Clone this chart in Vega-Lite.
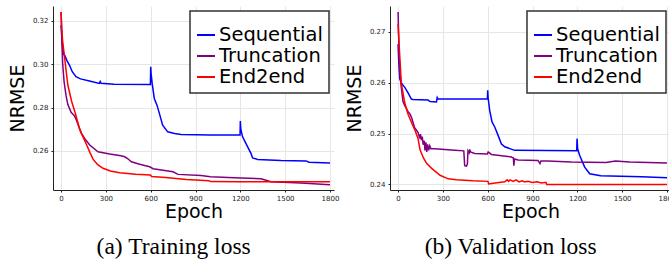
{
  "$schema": "https://vega.github.io/schema/vega-lite/v6.json",
  "padding": {"left": 8, "top": 6, "right": 0, "bottom": 0},
  "spacing": 6,
  "datasets": {
    "train": [
      {"s": "Sequential", "e": 0, "v": 0.318},
      {"s": "Sequential", "e": 8, "v": 0.309},
      {"s": "Sequential", "e": 18, "v": 0.3045},
      {"s": "Sequential", "e": 25, "v": 0.304},
      {"s": "Sequential", "e": 40, "v": 0.3015},
      {"s": "Sequential", "e": 56, "v": 0.2996},
      {"s": "Sequential", "e": 75, "v": 0.2965},
      {"s": "Sequential", "e": 100, "v": 0.2942},
      {"s": "Sequential", "e": 130, "v": 0.2932},
      {"s": "Sequential", "e": 190, "v": 0.2922},
      {"s": "Sequential", "e": 256, "v": 0.2911},
      {"s": "Sequential", "e": 262, "v": 0.292},
      {"s": "Sequential", "e": 268, "v": 0.2912},
      {"s": "Sequential", "e": 355, "v": 0.2907},
      {"s": "Sequential", "e": 598, "v": 0.2906},
      {"s": "Sequential", "e": 600, "v": 0.2988},
      {"s": "Sequential", "e": 603, "v": 0.2955},
      {"s": "Sequential", "e": 610, "v": 0.291},
      {"s": "Sequential", "e": 624, "v": 0.2842},
      {"s": "Sequential", "e": 642, "v": 0.2811},
      {"s": "Sequential", "e": 658, "v": 0.2773},
      {"s": "Sequential", "e": 680, "v": 0.2719},
      {"s": "Sequential", "e": 714, "v": 0.2688},
      {"s": "Sequential", "e": 760, "v": 0.268},
      {"s": "Sequential", "e": 803, "v": 0.2676},
      {"s": "Sequential", "e": 1000, "v": 0.2674},
      {"s": "Sequential", "e": 1198, "v": 0.2674},
      {"s": "Sequential", "e": 1200, "v": 0.2738},
      {"s": "Sequential", "e": 1203, "v": 0.27},
      {"s": "Sequential", "e": 1215, "v": 0.2665},
      {"s": "Sequential", "e": 1249, "v": 0.2619},
      {"s": "Sequential", "e": 1271, "v": 0.2589},
      {"s": "Sequential", "e": 1282, "v": 0.2568},
      {"s": "Sequential", "e": 1316, "v": 0.2561},
      {"s": "Sequential", "e": 1472, "v": 0.2556},
      {"s": "Sequential", "e": 1640, "v": 0.2554},
      {"s": "Sequential", "e": 1660, "v": 0.2548},
      {"s": "Sequential", "e": 1800, "v": 0.2545},
      {"s": "Truncation", "e": 0, "v": 0.324},
      {"s": "Truncation", "e": 5, "v": 0.312},
      {"s": "Truncation", "e": 11, "v": 0.3},
      {"s": "Truncation", "e": 20, "v": 0.292},
      {"s": "Truncation", "e": 33, "v": 0.2857},
      {"s": "Truncation", "e": 45, "v": 0.2815},
      {"s": "Truncation", "e": 67, "v": 0.2778},
      {"s": "Truncation", "e": 89, "v": 0.2762},
      {"s": "Truncation", "e": 103, "v": 0.2742},
      {"s": "Truncation", "e": 136, "v": 0.2681},
      {"s": "Truncation", "e": 160, "v": 0.2655},
      {"s": "Truncation", "e": 192, "v": 0.2627},
      {"s": "Truncation", "e": 247, "v": 0.2596},
      {"s": "Truncation", "e": 326, "v": 0.2586},
      {"s": "Truncation", "e": 400, "v": 0.2578},
      {"s": "Truncation", "e": 426, "v": 0.2573},
      {"s": "Truncation", "e": 445, "v": 0.2565},
      {"s": "Truncation", "e": 471, "v": 0.255},
      {"s": "Truncation", "e": 520, "v": 0.254},
      {"s": "Truncation", "e": 593, "v": 0.2527},
      {"s": "Truncation", "e": 616, "v": 0.2518},
      {"s": "Truncation", "e": 749, "v": 0.2504},
      {"s": "Truncation", "e": 783, "v": 0.2492},
      {"s": "Truncation", "e": 937, "v": 0.2487},
      {"s": "Truncation", "e": 1000, "v": 0.2481},
      {"s": "Truncation", "e": 1160, "v": 0.2476},
      {"s": "Truncation", "e": 1338, "v": 0.2472},
      {"s": "Truncation", "e": 1405, "v": 0.2458},
      {"s": "Truncation", "e": 1606, "v": 0.2452},
      {"s": "Truncation", "e": 1800, "v": 0.2444},
      {"s": "End2end", "e": 0, "v": 0.324},
      {"s": "End2end", "e": 5, "v": 0.316},
      {"s": "End2end", "e": 10, "v": 0.311},
      {"s": "End2end", "e": 22, "v": 0.304},
      {"s": "End2end", "e": 45, "v": 0.2905},
      {"s": "End2end", "e": 70, "v": 0.283},
      {"s": "End2end", "e": 95, "v": 0.2775},
      {"s": "End2end", "e": 125, "v": 0.2698},
      {"s": "End2end", "e": 150, "v": 0.266},
      {"s": "End2end", "e": 170, "v": 0.263},
      {"s": "End2end", "e": 195, "v": 0.259},
      {"s": "End2end", "e": 214, "v": 0.2562},
      {"s": "End2end", "e": 245, "v": 0.2537},
      {"s": "End2end", "e": 281, "v": 0.252},
      {"s": "End2end", "e": 330, "v": 0.2508},
      {"s": "End2end", "e": 392, "v": 0.25},
      {"s": "End2end", "e": 500, "v": 0.2493},
      {"s": "End2end", "e": 598, "v": 0.2489},
      {"s": "End2end", "e": 606, "v": 0.2482},
      {"s": "End2end", "e": 700, "v": 0.2478},
      {"s": "End2end", "e": 839, "v": 0.2468},
      {"s": "End2end", "e": 990, "v": 0.2463},
      {"s": "End2end", "e": 1000, "v": 0.2459},
      {"s": "End2end", "e": 1200, "v": 0.2458},
      {"s": "End2end", "e": 1500, "v": 0.2458},
      {"s": "End2end", "e": 1800, "v": 0.2458}
    ],
    "val": [
      {"s": "Sequential", "e": 0, "v": 0.2676},
      {"s": "Sequential", "e": 5, "v": 0.264},
      {"s": "Sequential", "e": 11, "v": 0.2608},
      {"s": "Sequential", "e": 22, "v": 0.26},
      {"s": "Sequential", "e": 33, "v": 0.2595},
      {"s": "Sequential", "e": 45, "v": 0.2591},
      {"s": "Sequential", "e": 67, "v": 0.258},
      {"s": "Sequential", "e": 89, "v": 0.2568},
      {"s": "Sequential", "e": 100, "v": 0.2567},
      {"s": "Sequential", "e": 200, "v": 0.2566},
      {"s": "Sequential", "e": 215, "v": 0.2563},
      {"s": "Sequential", "e": 257, "v": 0.2562},
      {"s": "Sequential", "e": 262, "v": 0.2571},
      {"s": "Sequential", "e": 268, "v": 0.2568},
      {"s": "Sequential", "e": 598, "v": 0.2568},
      {"s": "Sequential", "e": 600, "v": 0.2585},
      {"s": "Sequential", "e": 603, "v": 0.257},
      {"s": "Sequential", "e": 613, "v": 0.2546},
      {"s": "Sequential", "e": 629, "v": 0.2523},
      {"s": "Sequential", "e": 647, "v": 0.2513},
      {"s": "Sequential", "e": 669, "v": 0.2497},
      {"s": "Sequential", "e": 691, "v": 0.248},
      {"s": "Sequential", "e": 714, "v": 0.2474},
      {"s": "Sequential", "e": 781, "v": 0.2467},
      {"s": "Sequential", "e": 1196, "v": 0.2466},
      {"s": "Sequential", "e": 1198, "v": 0.249},
      {"s": "Sequential", "e": 1202, "v": 0.247},
      {"s": "Sequential", "e": 1216, "v": 0.2457},
      {"s": "Sequential", "e": 1249, "v": 0.2434},
      {"s": "Sequential", "e": 1283, "v": 0.2421},
      {"s": "Sequential", "e": 1356, "v": 0.2417},
      {"s": "Sequential", "e": 1490, "v": 0.2416},
      {"s": "Sequential", "e": 1632, "v": 0.2415},
      {"s": "Sequential", "e": 1800, "v": 0.2413},
      {"s": "Truncation", "e": 0, "v": 0.2739},
      {"s": "Truncation", "e": 5, "v": 0.268},
      {"s": "Truncation", "e": 11, "v": 0.2621},
      {"s": "Truncation", "e": 22, "v": 0.259},
      {"s": "Truncation", "e": 33, "v": 0.2563},
      {"s": "Truncation", "e": 45, "v": 0.2555},
      {"s": "Truncation", "e": 67, "v": 0.2543},
      {"s": "Truncation", "e": 80, "v": 0.2538},
      {"s": "Truncation", "e": 90, "v": 0.2532},
      {"s": "Truncation", "e": 110, "v": 0.2512},
      {"s": "Truncation", "e": 134, "v": 0.2502},
      {"s": "Truncation", "e": 145, "v": 0.249},
      {"s": "Truncation", "e": 150, "v": 0.2499},
      {"s": "Truncation", "e": 156, "v": 0.2487},
      {"s": "Truncation", "e": 162, "v": 0.2494},
      {"s": "Truncation", "e": 168, "v": 0.2478},
      {"s": "Truncation", "e": 175, "v": 0.2486},
      {"s": "Truncation", "e": 180, "v": 0.2467},
      {"s": "Truncation", "e": 186, "v": 0.2483},
      {"s": "Truncation", "e": 192, "v": 0.2464},
      {"s": "Truncation", "e": 198, "v": 0.2479},
      {"s": "Truncation", "e": 205, "v": 0.2467},
      {"s": "Truncation", "e": 212, "v": 0.2476},
      {"s": "Truncation", "e": 220, "v": 0.247},
      {"s": "Truncation", "e": 245, "v": 0.247},
      {"s": "Truncation", "e": 290, "v": 0.2469},
      {"s": "Truncation", "e": 379, "v": 0.2467},
      {"s": "Truncation", "e": 440, "v": 0.2466},
      {"s": "Truncation", "e": 446, "v": 0.2437},
      {"s": "Truncation", "e": 458, "v": 0.2436},
      {"s": "Truncation", "e": 464, "v": 0.244},
      {"s": "Truncation", "e": 468, "v": 0.2466},
      {"s": "Truncation", "e": 476, "v": 0.2462},
      {"s": "Truncation", "e": 480, "v": 0.2469},
      {"s": "Truncation", "e": 485, "v": 0.2464},
      {"s": "Truncation", "e": 513, "v": 0.2461},
      {"s": "Truncation", "e": 598, "v": 0.246},
      {"s": "Truncation", "e": 603, "v": 0.2464},
      {"s": "Truncation", "e": 625, "v": 0.2459},
      {"s": "Truncation", "e": 758, "v": 0.2454},
      {"s": "Truncation", "e": 772, "v": 0.2452},
      {"s": "Truncation", "e": 775, "v": 0.2437},
      {"s": "Truncation", "e": 780, "v": 0.245},
      {"s": "Truncation", "e": 803, "v": 0.2448},
      {"s": "Truncation", "e": 937, "v": 0.2447},
      {"s": "Truncation", "e": 950, "v": 0.2441},
      {"s": "Truncation", "e": 956, "v": 0.2446},
      {"s": "Truncation", "e": 1000, "v": 0.2446},
      {"s": "Truncation", "e": 1160, "v": 0.2444},
      {"s": "Truncation", "e": 1392, "v": 0.2443},
      {"s": "Truncation", "e": 1455, "v": 0.2446},
      {"s": "Truncation", "e": 1550, "v": 0.2444},
      {"s": "Truncation", "e": 1800, "v": 0.2442},
      {"s": "End2end", "e": 0, "v": 0.2716},
      {"s": "End2end", "e": 5, "v": 0.2685},
      {"s": "End2end", "e": 11, "v": 0.2654},
      {"s": "End2end", "e": 22, "v": 0.2598},
      {"s": "End2end", "e": 45, "v": 0.256},
      {"s": "End2end", "e": 67, "v": 0.2538},
      {"s": "End2end", "e": 100, "v": 0.2515},
      {"s": "End2end", "e": 114, "v": 0.2506},
      {"s": "End2end", "e": 134, "v": 0.249},
      {"s": "End2end", "e": 147, "v": 0.2468},
      {"s": "End2end", "e": 170, "v": 0.2452},
      {"s": "End2end", "e": 192, "v": 0.2441},
      {"s": "End2end", "e": 223, "v": 0.2432},
      {"s": "End2end", "e": 281, "v": 0.2418},
      {"s": "End2end", "e": 335, "v": 0.2411},
      {"s": "End2end", "e": 392, "v": 0.2409},
      {"s": "End2end", "e": 500, "v": 0.2407},
      {"s": "End2end", "e": 602, "v": 0.2406},
      {"s": "End2end", "e": 606, "v": 0.2401},
      {"s": "End2end", "e": 650, "v": 0.2403},
      {"s": "End2end", "e": 714, "v": 0.2405},
      {"s": "End2end", "e": 730, "v": 0.2409},
      {"s": "End2end", "e": 740, "v": 0.2406},
      {"s": "End2end", "e": 750, "v": 0.2409},
      {"s": "End2end", "e": 770, "v": 0.2406},
      {"s": "End2end", "e": 790, "v": 0.2409},
      {"s": "End2end", "e": 810, "v": 0.2405},
      {"s": "End2end", "e": 830, "v": 0.2407},
      {"s": "End2end", "e": 848, "v": 0.2405},
      {"s": "End2end", "e": 870, "v": 0.2406},
      {"s": "End2end", "e": 900, "v": 0.2404},
      {"s": "End2end", "e": 930, "v": 0.2405},
      {"s": "End2end", "e": 960, "v": 0.2403},
      {"s": "End2end", "e": 990, "v": 0.2404},
      {"s": "End2end", "e": 995, "v": 0.24},
      {"s": "End2end", "e": 1800, "v": 0.24}
    ]
  },
  "config": {
    "font": "DejaVu Sans",
    "view": {"stroke": null},
    "axis": {
      "labelFontSize": 7,
      "labelColor": "#222222",
      "titleFontSize": 19,
      "titleFontWeight": "normal",
      "titleColor": "black",
      "gridColor": "#e6e6e6",
      "gridWidth": 1,
      "domainColor": "#222222",
      "domainWidth": 1,
      "tickColor": "#222222",
      "tickSize": 2,
      "labelPadding": 2
    },
    "axisY": {"titlePadding": 5, "labelPadding": 3},
    "axisX": {"titlePadding": 1},
    "legend": {
      "orient": "top-right",
      "offset": 5,
      "fillColor": "white",
      "strokeColor": "#333333",
      "strokeWidth": 1.5,
      "padding": 6,
      "labelFontSize": 19.5,
      "labelColor": "black",
      "labelOffset": 3,
      "rowPadding": 1,
      "symbolType": "stroke",
      "symbolSize": 324,
      "symbolStrokeWidth": 2,
      "titleFontSize": 4,
      "titlePadding": 4
    },
    "title": {
      "font": "Liberation Serif",
      "fontSize": 23.5,
      "fontWeight": "normal",
      "color": "black",
      "orient": "bottom",
      "anchor": "middle",
      "frame": "bounds",
      "offset": 14
    }
  },
  "hconcat": [
    {
      "title": "(a) Training loss",
      "width": 281,
      "height": 184,
      "data": {"name": "train"},
      "mark": {"type": "line", "strokeWidth": 1.5, "clip": true},
      "encoding": {
        "x": {"field": "e", "type": "quantitative", "scale": {"domain": [-54, 1827], "nice": false, "zero": false},
              "axis": {"values": [0, 300, 600, 900, 1200, 1500, 1800], "format": "d", "title": "Epoch"}},
        "y": {"field": "v", "type": "quantitative", "scale": {"domain": [0.242, 0.3268], "nice": false, "zero": false},
              "axis": {"values": [0.26, 0.28, 0.30, 0.32], "format": ".2f", "title": "NRMSE"}},
        "color": {"field": "s", "type": "nominal",
                  "scale": {"domain": ["Sequential", "Truncation", "End2end"], "range": ["#0000ff", "#800080", "#ff0000"]},
                  "legend": {"title": " "}}
      }
    },
    {
      "title": "(b) Validation loss",
      "width": 281,
      "height": 184,
      "data": {"name": "val"},
      "mark": {"type": "line", "strokeWidth": 1.5, "clip": true},
      "encoding": {
        "x": {"field": "e", "type": "quantitative", "scale": {"domain": [-54, 1827], "nice": false, "zero": false},
              "axis": {"values": [0, 300, 600, 900, 1200, 1500, 1800], "format": "d", "title": "Epoch"}},
        "y": {"field": "v", "type": "quantitative", "scale": {"domain": [0.2389, 0.2751], "nice": false, "zero": false},
              "axis": {"values": [0.24, 0.25, 0.26, 0.27], "format": ".2f", "title": "NRMSE"}},
        "color": {"field": "s", "type": "nominal",
                  "scale": {"domain": ["Sequential", "Truncation", "End2end"], "range": ["#0000ff", "#800080", "#ff0000"]},
                  "legend": {"title": " "}}
      }
    }
  ],
  "resolve": {"scale": {"color": "independent"}, "legend": {"color": "independent"}}
}
